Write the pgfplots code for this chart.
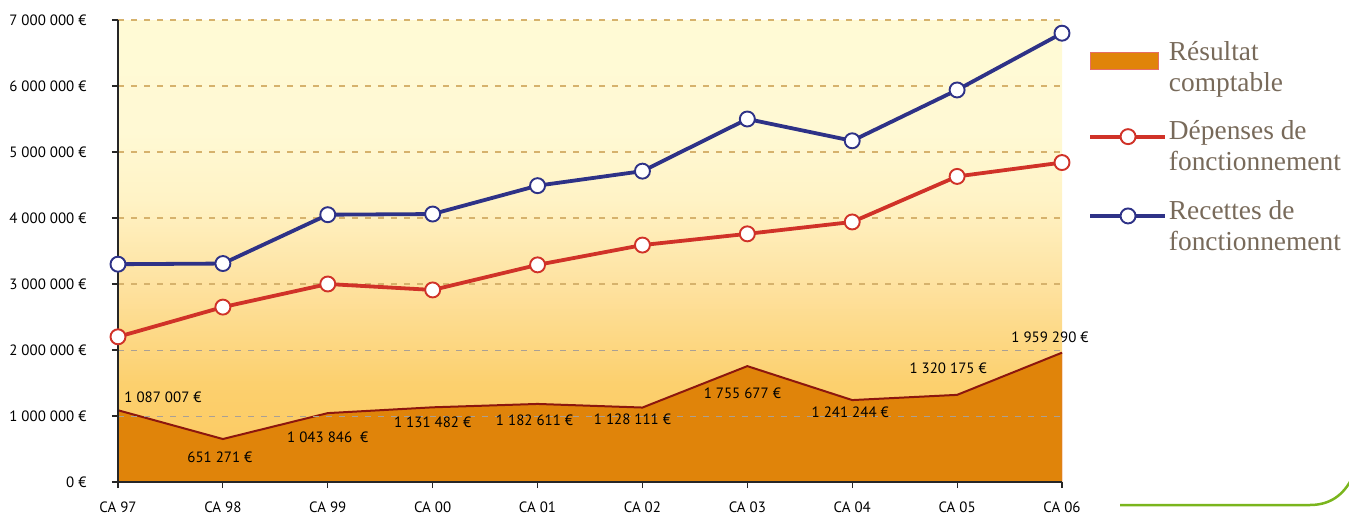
\documentclass[border=0pt]{standalone}
\usepackage{fontspec}
\setmainfont{PT Sans}
\newfontfamily\legfont{Liberation Serif}
\usepackage{pgfplots}
\pgfplotsset{compat=1.18}
\definecolor{bg0}{RGB}{251,200,94}
\definecolor{bg1}{RGB}{252,208,110}
\definecolor{bg2}{RGB}{254,226,160}
\definecolor{bg3}{RGB}{255,243,198}
\definecolor{bg4}{RGB}{255,249,212}
\definecolor{bg5}{RGB}{255,250,213}
\definecolor{areaor}{RGB}{224,132,10}
\definecolor{areaedge}{RGB}{230,110,100}
\definecolor{arealine}{RGB}{140,22,14}
\definecolor{redl}{RGB}{208,50,40}
\definecolor{bluel}{RGB}{46,50,135}
\definecolor{legtext}{RGB}{120,106,90}
\definecolor{gridtan}{RGB}{214,178,108}
\definecolor{gridgray}{RGB}{170,160,148}
\definecolor{greendeco}{RGB}{122,181,29}
\pgfdeclareverticalshading{bgshade}{100bp}{color(0bp)=(bg0); color(25bp)=(bg0); color(35.7bp)=(bg1); color(46.4bp)=(bg2); color(55.7bp)=(bg3); color(62.9bp)=(bg4); color(75bp)=(bg5); color(100bp)=(bg5)}
\pgfplotsset{
  arealeg/.style={legend image code/.code={\draw[##1] (0bp,-2bp) rectangle (68bp,15bp);}},
  lineleg/.style={legend image code/.code={\draw[mark repeat=2,mark phase=2,##1] plot coordinates {(0bp,10bp) (38bp,10bp) (75bp,10bp)};}},
}
\begin{document}
\begin{tikzpicture}
\begin{axis}[
  scale only axis, width=944bp, height=462bp,
  xmin=0, xmax=9, ymin=0, ymax=7000000,
  axis lines=left, axis line style={-, line width=1.2bp, black!85},
  xtick={0,1,2,3,4,5,6,7,8,9},
  xticklabels={CA 97,CA 98,CA 99,CA 00,CA 01,CA 02,CA 03,CA 04,CA 05,CA 06},
  ytick={0,3000000,4000000,5000000,6000000,7000000},
  yticklabels={0 €,3 000 000 €,4 000 000 €,5 000 000 €,6 000 000 €,7 000 000 €},
  extra y ticks={1000000,2000000},
  extra y tick labels={1 000 000 €,2 000 000 €},
  extra y tick style={grid style={gridgray, dash pattern=on 6bp off 7bp, line width=1bp}},
  scaled y ticks=false,
  tick align=outside, major tick length=6bp,
  tick style={black!85, line width=1.2bp},
  ymajorgrids,
  grid style={gridtan, dash pattern=on 6bp off 7bp, line width=1.2bp},
  xticklabel style={font=\fontsize{15pt}{18pt}\selectfont, yshift=-10bp},
  yticklabel style={font=\fontsize{15pt}{18pt}\selectfont, xshift=-22bp},
  set layers,
  axis background/.style={shading=bgshade},
  clip=false,
  legend style={at={(1.0275,0.958)}, anchor=north west, draw=none, fill=none,
    font=\legfont\fontsize{27.5pt}{31pt}\selectfont, text=legtext,
    cells={align=left}, row sep=24pt, inner sep=0pt},
  legend cell align=left,
]
\addplot[on layer=axis background, fill=areaor, draw=areaedge, line width=0.4bp, arealeg]
  coordinates {(0,1087007) (1,651271) (2,1043846) (3,1131482) (4,1182611) (5,1128111) (6,1755677) (7,1241244) (8,1320175) (9,1959290)} \closedcycle;
\addlegendentry{Résultat\\comptable}
\addplot[on layer=axis background, arealine, line width=2bp, forget plot]
  coordinates {(0,1087007) (1,651271) (2,1043846) (3,1131482) (4,1182611) (5,1128111) (6,1755677) (7,1241244) (8,1320175) (9,1959290)};
\addplot[redl, line width=3.8bp, mark=*, mark size=7.5bp,
  mark options={fill=white, draw=redl, line width=1.9bp}, lineleg]
  coordinates {(0,2200000) (1,2650000) (2,3000000) (3,2910000) (4,3290000) (5,3590000) (6,3760000) (7,3940000) (8,4630000) (9,4840000)};
\addlegendentry{Dépenses de\\fonctionnement}
\addplot[bluel, line width=3.8bp, mark=*, mark size=7.5bp,
  mark options={fill=white, draw=bluel, line width=1.9bp}, lineleg]
  coordinates {(0,3300000) (1,3310000) (2,4050000) (3,4060000) (4,4490000) (5,4710000) (6,5500000) (7,5170000) (8,5940000) (9,6800000)};
\addlegendentry{Recettes de\\fonctionnement}
\begin{scope}[every node/.style={font=\fontsize{15pt}{18pt}\selectfont, inner sep=0pt}]
\node[xshift=45bp, yshift=13bp] at (axis cs:0,1087007) {1 087 007 €};
\node[xshift=-3bp, yshift=-18bp] at (axis cs:1,651271) {651 271 €};
\node[xshift=0bp, yshift=-24bp] at (axis cs:2,1043846) {1 043 846 \ €};
\node[xshift=0bp, yshift=-15bp] at (axis cs:3,1131482) {1 131 482 €};
\node[xshift=-3bp, yshift=-16bp] at (axis cs:4,1182611) {1 182 611 €};
\node[xshift=-10bp, yshift=-12bp] at (axis cs:5,1128111) {1 128 111 €};
\node[xshift=-5bp, yshift=-27bp] at (axis cs:6,1755677) {1 755 677 €};
\node[xshift=-2bp, yshift=-12bp] at (axis cs:7,1241244) {1 241 244 €};
\node[xshift=-9bp, yshift=27bp] at (axis cs:8,1320175) {1 320 175 €};
\node[xshift=-12bp, yshift=15bp] at (axis cs:9,1959290) {1 959 290 €};
\end{scope}
\end{axis}
\draw[greendeco, line width=2.5bp] (1002bp,-23bp) -- (1192bp,-23bp) .. controls (1215bp,-23bp) and (1228bp,-10bp) .. (1236bp,8bp);
\pgfresetboundingbox
\path[use as bounding box] (-118bp,-33bp) rectangle (1231bp,482bp);
\end{tikzpicture}
\end{document}
